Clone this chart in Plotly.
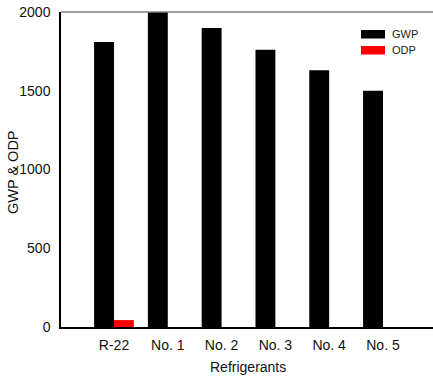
import plotly.graph_objects as go

categories = ["R-22", "No. 1", "No. 2", "No. 3", "No. 4", "No. 5"]
gwp = [1810, 2000, 1898, 1760, 1630, 1500]
odp = [44, 0, 0, 0, 0, 0]
y_ticks = [0, 500, 1000, 1500, 2000]

FONT = "Liberation Sans, Arial, sans-serif"

fig = go.Figure()
fig.add_trace(go.Bar(x=categories, y=gwp, name="GWP", marker=dict(color="black", line=dict(width=0))))
fig.add_trace(go.Bar(x=categories, y=odp, name="ODP", marker=dict(color="#ff0000", line=dict(width=0))))

W, H = 433, 378
L, R, T, B = 61, 0, 12, 51
pw = W - L - R
ph = H - T - B

def px(x):
    return (x - L) / pw

def py(y):
    return (H - B - y) / ph

shapes = [
    dict(type="line", xref="paper", yref="paper", x0=0, x1=1, y0=1, y1=1,
         line=dict(color="#808080", width=1.5)),
    dict(type="rect", xref="paper", yref="paper", x0=px(361), x1=px(385), y0=py(38.5), y1=py(30),
         fillcolor="black", line=dict(width=0)),
    dict(type="rect", xref="paper", yref="paper", x0=px(361), x1=px(385), y0=py(54.5), y1=py(46),
         fillcolor="#ff0000", line=dict(width=0)),
]
annotations = [
    dict(text="GWP", xref="paper", yref="paper", x=px(390), y=py(34), xanchor="left", yanchor="middle",
         showarrow=False, font=dict(family=FONT, size=11, color="#222")),
    dict(text="ODP", xref="paper", yref="paper", x=px(390), y=py(50), xanchor="left", yanchor="middle",
         showarrow=False, font=dict(family=FONT, size=11, color="#222")),
    dict(text="GWP &amp; ODP", xref="paper", yref="paper", x=px(13), y=py(172), xanchor="center",
         yanchor="middle", textangle=-90, showarrow=False, font=dict(family=FONT, size=14.5, color="#111")),
    dict(text="Refrigerants", xref="paper", yref="paper", x=px(248), y=py(367), xanchor="center",
         yanchor="middle", showarrow=False, font=dict(family=FONT, size=14, color="#111")),
]

fig.update_layout(
    width=W, height=H,
    margin=dict(l=L, r=R, t=T, b=B, pad=0, autoexpand=False),
    paper_bgcolor="white", plot_bgcolor="white",
    barmode="group", bargap=0.26, bargroupgap=0,
    showlegend=False,
    font=dict(family=FONT, size=14, color="#111"),
    shapes=shapes, annotations=annotations,
    xaxis=dict(range=[-0.985, 5.93], showline=True, linecolor="black", linewidth=1.5,
               ticks="", showgrid=False, zeroline=False, ticklabelstandoff=4, automargin=False),
    yaxis=dict(range=[0, 2000], tickvals=y_ticks, showline=True, linecolor="black", linewidth=1.5,
               ticks="", showgrid=False, zeroline=False, ticklabelstandoff=6, automargin=False,
               tickfont=dict(size=14)),
)

fig.write_html("out.html", config={"displayModeBar": False},
               post_script="document.body.style.margin='0';document.body.style.overflow='hidden';")
